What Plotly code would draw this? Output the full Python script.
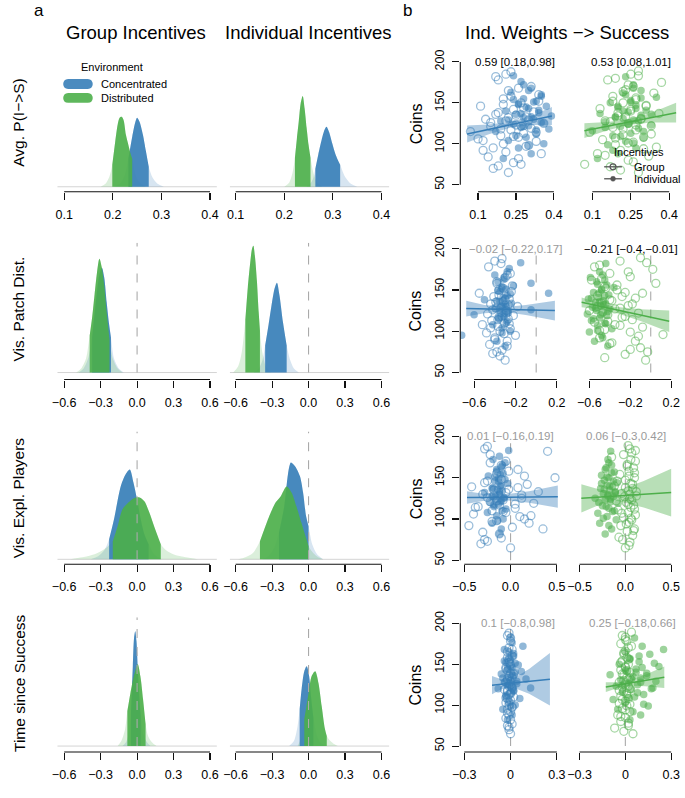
import plotly.graph_objects as go

# ======================= DATA =======================
# ---- Panel a: posterior densities (relative height) + 95% interval (lo, hi) ----
# Row 1: Avg. P(I->S)
r1_grp_conc_x = [0.200, 0.215, 0.225, 0.232, 0.240, 0.246, 0.250, 0.255, 0.262, 0.268, 0.274, 0.282, 0.292, 0.305]
r1_grp_conc_h = [0, 3, 12, 28, 50, 64, 69, 65, 52, 36, 20, 9, 3, 0]
r1_grp_conc_ci = [0.232, 0.274]
r1_grp_dist_x = [0.175, 0.185, 0.193, 0.199, 0.205, 0.210, 0.214, 0.218, 0.222, 0.227, 0.232, 0.236, 0.240, 0.248, 0.258, 0.268]
r1_grp_dist_h = [0, 3, 10, 22, 45, 62, 69, 70, 67, 52, 42, 34, 28, 10, 3, 0]
r1_grp_dist_ci = [0.199, 0.240]
r1_ind_conc_x = [0.245, 0.255, 0.260, 0.264, 0.270, 0.277, 0.283, 0.287, 0.292, 0.299, 0.305, 0.310, 0.315, 0.325, 0.337, 0.350]
r1_ind_conc_h = [0, 4, 9, 18, 32, 47, 57, 60, 55, 43, 33, 27, 22, 10, 3, 0]
r1_ind_conc_ci = [0.264, 0.315]
r1_ind_dist_x = [0.200, 0.210, 0.217, 0.222, 0.226, 0.230, 0.234, 0.238, 0.242, 0.246, 0.250, 0.254, 0.260, 0.268, 0.278]
r1_ind_dist_h = [0, 4, 14, 29, 48, 66, 84, 91, 78, 59, 42, 29, 14, 4, 0]
r1_ind_dist_ci = [0.222, 0.254]
# Row 2: Vis. Patch Dist.
r2_grp_conc_x = [-0.48, -0.44, -0.40, -0.37, -0.34, -0.31, -0.29, -0.27, -0.25, -0.23, -0.215, -0.19, -0.15, -0.11]
r2_grp_conc_h = [0, 4, 15, 35, 70, 98, 105, 95, 70, 48, 35, 14, 4, 0]
r2_grp_conc_ci = [-0.37, -0.215]
r2_grp_dist_x = [-0.50, -0.46, -0.42, -0.39, -0.37, -0.35, -0.33, -0.31, -0.29, -0.27, -0.25, -0.227, -0.20, -0.16, -0.12]
r2_grp_dist_h = [0, 4, 14, 37, 55, 78, 100, 114, 105, 87, 60, 33, 14, 4, 0]
r2_grp_dist_ci = [-0.39, -0.227]
r2_ind_conc_x = [-0.45, -0.41, -0.38, -0.357, -0.33, -0.31, -0.28, -0.26, -0.24, -0.21, -0.18, -0.15, -0.12, -0.08]
r2_ind_conc_h = [0, 4, 12, 27, 47, 63, 84, 90, 78, 50, 27, 12, 4, 0]
r2_ind_conc_ci = [-0.357, -0.18]
r2_ind_dist_x = [-0.62, -0.58, -0.55, -0.52, -0.50, -0.48, -0.465, -0.454, -0.44, -0.425, -0.41, -0.40, -0.38, -0.35, -0.31]
r2_ind_dist_h = [0, 6, 20, 53, 85, 110, 124, 127, 115, 92, 60, 42, 20, 6, 0]
r2_ind_dist_ci = [-0.52, -0.40]
# Row 3: Vis. Expl. Players
r3_grp_conc_x = [-0.38, -0.32, -0.27, -0.23, -0.19, -0.135, -0.095, -0.06, -0.03, 0.0, 0.03, 0.06, 0.095, 0.14, 0.20]
r3_grp_conc_h = [0, 3, 9, 20, 40, 73, 85, 90, 77, 60, 40, 25, 15, 5, 0]
r3_grp_conc_ci = [-0.23, 0.095]
r3_grp_dist_x = [-0.55, -0.45, -0.35, -0.27, -0.20, -0.16, -0.12, -0.07, -0.03, 0.02, 0.06, 0.10, 0.14, 0.195, 0.25, 0.32, 0.40, 0.50]
r3_grp_dist_h = [0, 2, 5, 10, 18, 33, 50, 57, 61, 62, 58, 47, 33, 15, 8, 4, 2, 0]
r3_grp_dist_ci = [-0.20, 0.195]
r3_ind_conc_x = [-0.38, -0.33, -0.28, -0.243, -0.20, -0.178, -0.16, -0.145, -0.11, -0.07, -0.045, -0.02, 0.0, 0.03, 0.07, 0.12]
r3_ind_conc_h = [0, 3, 12, 27, 53, 77, 92, 97, 93, 83, 67, 43, 33, 15, 5, 0]
r3_ind_conc_ci = [-0.243, 0.0]
r3_ind_dist_x = [-0.58, -0.52, -0.46, -0.40, -0.355, -0.31, -0.27, -0.23, -0.18, -0.14, -0.10, -0.06, -0.03, 0.0, 0.04, 0.08, 0.12]
r3_ind_dist_h = [0, 2, 6, 18, 33, 47, 57, 63, 73, 67, 53, 37, 25, 13, 6, 2, 0]
r3_ind_dist_ci = [-0.40, 0.0]
# Row 4: Time since Success
r4_grp_conc_x = [-0.12, -0.09, -0.065, -0.05, -0.035, -0.025, -0.015, -0.005, 0.005, 0.015, 0.03, 0.05, 0.08, 0.11]
r4_grp_conc_h = [0, 4, 15, 35, 80, 108, 115, 105, 80, 55, 30, 12, 4, 0]
r4_grp_conc_ci = [-0.05, 0.03]
r4_grp_dist_x = [-0.16, -0.13, -0.10, -0.08, -0.055, -0.027, 0.005, 0.027, 0.049, 0.07, 0.09, 0.12, 0.16]
r4_grp_dist_h = [0, 5, 16, 35, 53, 70, 82, 70, 47, 22, 10, 4, 0]
r4_grp_dist_ci = [-0.08, 0.07]
r4_ind_conc_x = [-0.16, -0.12, -0.09, -0.073, -0.057, -0.035, -0.015, 0.005, 0.02, 0.04, 0.07, 0.10, 0.14]
r4_ind_conc_h = [0, 5, 20, 37, 57, 75, 80, 70, 50, 28, 10, 3, 0]
r4_ind_conc_ci = [-0.073, 0.04]
r4_ind_dist_x = [-0.09, -0.06, -0.035, 0.0, 0.025, 0.055, 0.082, 0.108, 0.135, 0.15, 0.18, 0.21, 0.24]
r4_ind_dist_h = [0, 8, 27, 53, 70, 75, 63, 40, 17, 10, 5, 2, 0]
r4_ind_dist_ci = [-0.035, 0.15]

# ---- Panel b: coins per player (Concentrated = blue, Distributed = green) ----
conc_group_coins = [65, 73, 75, 77, 84, 88, 92, 95, 98, 100, 103, 106, 108, 110, 113, 115, 117, 119, 121, 123,
                    125, 128, 130, 133, 136, 139, 142, 146, 150, 155, 160, 165, 170, 178, 185, 188,
                    70, 82, 90, 97, 104, 109, 114, 118, 122, 126, 129, 132, 135, 138, 144, 148, 152, 158, 168, 182]
conc_indiv_coins = [82, 88, 95, 100, 104, 108, 112, 115, 118, 120, 122, 124, 126, 128, 130, 132, 134, 136, 138, 140,
                    143, 146, 149, 152, 155, 158, 163, 168, 176, 183,
                    98, 110, 117, 121, 125, 129, 133, 137, 141, 145, 148, 151, 154, 160, 165, 172]
dist_group_coins = [65, 72, 75, 80, 85, 88, 92, 96, 99, 102, 105, 108, 111, 114, 117, 120, 122, 125, 128, 131,
                    134, 137, 140, 143, 147, 150, 154, 158, 162, 166, 170, 175, 180, 185, 189, 178,
                    68, 78, 86, 94, 101, 107, 112, 118, 123, 127, 130, 133, 138, 142, 146, 152, 156, 164, 172, 183]
dist_indiv_coins = [82, 88, 95, 99, 103, 107, 110, 113, 116, 119, 121, 123, 125, 127, 129, 131, 133, 135, 137, 139,
                    141, 144, 147, 150, 153, 157, 162, 165, 172, 182,
                    92, 101, 109, 115, 120, 124, 128, 132, 136, 140, 143, 146, 151, 156, 160, 168]

# individual weights per player, per row
r1_conc_group_w = [0.22, 0.18, 0.27, 0.24, 0.14, 0.35, 0.12, 0.16, 0.30, 0.20, 0.33, 0.10, 0.26, 0.19, 0.28, 0.07, 0.23, 0.31,
                   0.15, 0.25, 0.36, 0.21, 0.13, 0.29, 0.17, 0.32, 0.24, 0.11, 0.27, 0.20, 0.34, 0.22, 0.31, 0.18, 0.21, 0.23,
                   0.16, 0.26, 0.21, 0.29, 0.12, 0.24, 0.33, 0.19, 0.27, 0.15, 0.30, 0.22, 0.25, 0.18, 0.28, 0.20, 0.34, 0.23, 0.26, 0.17]
r1_conc_indiv_w = [0.20, 0.31, 0.26, 0.36, 0.22, 0.29, 0.33, 0.17, 0.38, 0.27, 0.30, 0.24, 0.35, 0.19, 0.32, 0.28, 0.39, 0.25,
                   0.34, 0.21, 0.30, 0.37, 0.26, 0.33, 0.28, 0.35, 0.23, 0.31, 0.27, 0.24,
                   0.30, 0.25, 0.33, 0.28, 0.36, 0.22, 0.31, 0.27, 0.34, 0.29, 0.26, 0.32, 0.24, 0.35, 0.30, 0.28]
r1_dist_group_w = [0.28, 0.17, 0.07, 0.24, 0.32, 0.12, 0.21, 0.35, 0.19, 0.26, 0.14, 0.30, 0.22, 0.09, 0.27, 0.18, 0.33, 0.24,
                   0.15, 0.29, 0.20, 0.36, 0.25, 0.13, 0.31, 0.22, 0.27, 0.18, 0.34, 0.23, 0.26, 0.37, 0.19, 0.25, 0.28, 0.16,
                   0.21, 0.26, 0.15, 0.30, 0.24, 0.19, 0.33, 0.22, 0.27, 0.17, 0.29, 0.23, 0.20, 0.25, 0.31, 0.18, 0.27, 0.22, 0.24, 0.28]
r1_dist_indiv_w = [0.12, 0.20, 0.27, 0.16, 0.23, 0.30, 0.18, 0.25, 0.10, 0.28, 0.21, 0.33, 0.24, 0.15, 0.26, 0.22, 0.19, 0.29,
                   0.13, 0.24, 0.31, 0.20, 0.27, 0.17, 0.25, 0.35, 0.22, 0.29, 0.26, 0.23,
                   0.18, 0.26, 0.21, 0.30, 0.15, 0.24, 0.28, 0.19, 0.33, 0.22, 0.27, 0.20, 0.25, 0.29, 0.23, 0.26]
r2_conc_group_w = [-0.30, -0.42, -0.38, -0.33, -0.45, -0.28, -0.40, -0.20, -0.48, -0.35, -0.25, -0.37, -0.52, -0.31, -0.43,
                   -0.27, -0.36, -0.22, -0.47, -0.34, -0.29, -0.39, -0.18, -0.44, -0.32, -0.26, -0.41, -0.55, -0.36, -0.23,
                   -0.38, -0.30, -0.25, -0.46, -0.40, -0.33,
                   -0.35, -0.28, -0.40, -0.31, -0.44, -0.26, -0.37, -0.33, -0.29, -0.42, -0.34, -0.27, -0.39, -0.30, -0.36,
                   -0.24, -0.32, -0.38, -0.28, -0.34]
r2_conc_indiv_w = [-0.30, -0.38, -0.72, -0.25, -0.33, -0.42, -0.28, -0.36, -0.31, -0.60, -0.27, -0.34, -0.05, -0.39, -0.29,
                   -0.32, -0.24, -0.35, -0.50, -0.30, -0.28, 0.12, -0.37, -0.33, -0.22, -0.05, -0.31, -0.40, -0.26, -0.15,
                   -0.33, -0.29, -0.36, -0.31, -0.27, -0.34, -0.30, -0.38, -0.32, -0.25, -0.35, -0.29, -0.33, -0.37, -0.31, -0.28]
r2_dist_group_w = [-0.05, -0.25, -0.03, -0.10, -0.40, -0.15, -0.50, 0.12, -0.20, -0.45, -0.08, -0.35, -0.55, -0.18, -0.28,
                   -0.42, -0.12, -0.60, -0.30, -0.22, -0.48, -0.38, -0.15, -0.52, -0.25, -0.33, -0.45, 0.05, -0.58, -0.20,
                   -0.40, 0.02, -0.50, -0.30, -0.10, -0.55,
                   -0.45, -0.20, -0.38, -0.12, -0.50, -0.30, -0.42, -0.25, -0.47, -0.35, -0.52, -0.18, -0.40, -0.28, -0.08,
                   -0.44, -0.33, -0.48, -0.22, -0.04]
r2_dist_indiv_w = [-0.42, -0.55, -0.48, -0.60, -0.38, -0.52, -0.45, -0.58, -0.50, -0.43, -0.62, -0.47, -0.53, -0.40, -0.57,
                   -0.49, -0.44, -0.54, -0.46, -0.61, -0.51, -0.41, -0.56, -0.48, -0.36, -0.52, -0.45, -0.59, -0.50, -0.44,
                   -0.47, -0.52, -0.44, -0.56, -0.49, -0.42, -0.54, -0.46, -0.50, -0.58, -0.45, -0.51, -0.48, -0.43, -0.53, -0.47]
r3_conc_group_w = [0.00, -0.25, -0.28, -0.10, -0.30, 0.35, -0.45, 0.20, -0.15, 0.15, 0.10, -0.40, -0.05, -0.20, 0.05,
                   -0.35, -0.12, 0.25, -0.22, -0.08, 0.12, -0.18, -0.30, 0.30, -0.02, -0.42, 0.18, -0.25, 0.48, -0.15,
                   0.08, -0.10, -0.05, -0.22, -0.28, -0.25,
                   -0.32, -0.12, 0.02, -0.20, 0.22, -0.08, -0.38, 0.05, -0.15, -0.25, 0.12, -0.05, -0.18, 0.08, -0.28,
                   -0.10, 0.15, -0.02, -0.22, 0.40]
r3_conc_indiv_w = [-0.12, -0.10, -0.20, -0.08, -0.15, -0.25, -0.05, -0.18, -0.13, -0.22, -0.10, -0.16, -0.07, -0.20, -0.12,
                   -0.28, -0.09, -0.14, -0.19, -0.11, -0.03, -0.17, -0.13, -0.24, -0.08, -0.15, -0.10, -0.06, -0.12, -0.02,
                   -0.14, -0.09, -0.18, -0.11, -0.07, -0.16, -0.12, -0.20, -0.10, -0.13, -0.06, -0.17, -0.11, -0.15, -0.09, -0.19]
r3_dist_group_w = [0.00, 0.05, -0.03, 0.08, 0.02, 0.10, -0.05, 0.04, 0.07, -0.02, 0.11, 0.03, -0.08, 0.06, 0.09, 0.01,
                   -0.10, 0.05, 0.12, -0.04, 0.03, 0.08, -0.12, 0.06, 0.00, 0.10, -0.06, 0.04, 0.09, 0.02, 0.11, -0.15,
                   0.07, 0.05, 0.03, -0.02,
                   0.04, -0.07, 0.09, 0.01, 0.06, -0.04, 0.10, 0.03, 0.07, -0.01, 0.05, 0.12, 0.00, 0.08, -0.09, 0.04,
                   0.10, 0.02, 0.06, 0.11]
r3_dist_indiv_w = [-0.22, -0.15, -0.28, -0.10, -0.20, -0.30, -0.12, -0.18, -0.25, -0.08, -0.16, -0.22, -0.33, -0.13, -0.19,
                   -0.24, -0.11, -0.17, -0.27, -0.14, -0.20, -0.09, -0.23, -0.18, -0.26, -0.12, -0.21, -0.15, -0.19, -0.16,
                   -0.18, -0.24, -0.14, -0.21, -0.29, -0.16, -0.19, -0.11, -0.23, -0.17, -0.26, -0.13, -0.20, -0.15, -0.22, -0.18]
r4_conc_group_w = [0.00, -0.01, -0.02, 0.01, -0.03, -0.01, 0.00, -0.02, 0.01, -0.01, -0.03, 0.00, -0.02, 0.02, -0.01,
                   0.00, -0.02, -0.04, 0.01, -0.01, 0.00, -0.03, -0.02, 0.01, -0.01, 0.00, -0.02, -0.03, 0.00, -0.01,
                   0.01, -0.02, -0.01, 0.00, -0.02, -0.01,
                   -0.01, 0.00, -0.02, 0.01, -0.01, -0.03, 0.00, -0.02, 0.01, -0.01, 0.00, -0.02, -0.01, 0.02, -0.03,
                   0.00, -0.01, -0.02, 0.01, 0.00]
r4_conc_indiv_w = [-0.02, 0.01, -0.05, 0.03, -0.01, 0.06, -0.03, 0.00, 0.02, -0.08, 0.01, -0.02, 0.04, -0.04, 0.00,
                   0.10, -0.01, 0.02, -0.06, 0.03, -0.02, 0.01, 0.05, -0.03, 0.00, -0.01, 0.02, -0.04, 0.01, 0.00,
                   0.00, -0.03, 0.02, 0.13, -0.01, 0.04, -0.05, 0.01, 0.07, -0.02, 0.00, 0.03, -0.04, 0.02, -0.01, 0.08]
r4_dist_group_w = [0.05, -0.07, 0.02, -0.03, 0.00, -0.05, 0.03, -0.02, 0.01, -0.04, 0.00, 0.02, -0.03, 0.01, -0.01,
                   0.03, -0.02, 0.00, -0.04, 0.02, 0.01, -0.01, 0.03, -0.03, 0.00, 0.02, -0.02, 0.01, -0.01, 0.00,
                   0.02, -0.03, 0.00, -0.02, 0.04, 0.01,
                   -0.01, 0.02, -0.03, 0.00, 0.03, -0.02, 0.01, -0.04, 0.02, 0.00, -0.01, 0.03, -0.02, 0.01, 0.00,
                   -0.03, 0.02, -0.01, 0.04, 0.00]
r4_dist_indiv_w = [0.03, 0.10, -0.05, 0.15, 0.00, -0.08, 0.06, 0.12, -0.02, 0.04, 0.18, -0.06, 0.08, 0.02, 0.20, -0.03,
                   0.10, 0.05, -0.10, 0.14, 0.01, 0.07, 0.22, -0.04, 0.09, 0.03, 0.16, 0.00, 0.11, 0.06,
                   0.05, 0.12, 0.02, 0.08, 0.17, -0.02, 0.10, 0.04, 0.14, 0.07, 0.00, 0.11, 0.19, 0.03, 0.09, 0.25]

# regression fit lines and confidence bands
r1_conc_fit_x, r1_conc_fit_y = [0.057, 0.392], [112, 134]
r1_conc_band_x = [0.057, 0.14, 0.23, 0.31, 0.392]
r1_conc_band_lo = [101.5, 111.5, 119.9, 123.1, 123]
r1_conc_band_hi = [122.5, 123.5, 126.9, 134.1, 145]
r1_dist_fit_x, r1_dist_fit_y = [0.069, 0.427], [116, 138]
r1_dist_band_x = [0.069, 0.16, 0.24, 0.33, 0.427]
r1_dist_band_lo = [107, 116.6, 123, 126, 126]
r1_dist_band_hi = [125, 126.6, 130, 138, 150]
r2_conc_fit_x, r2_conc_fit_y = [-0.676, 0.181], [127.4, 125]
r2_conc_band_x = [-0.676, -0.5, -0.3, -0.1, 0.181]
r2_conc_band_lo = [117.9, 121.9, 123.3, 119.8, 113.0]
r2_conc_band_hi = [136.9, 131.9, 129.3, 131.8, 137.0]
r2_dist_fit_x, r2_dist_fit_y = [-0.676, 0.181], [135, 112]
r2_dist_band_x = [-0.676, -0.5, -0.35, -0.1, 0.181]
r2_dist_band_lo = [129, 126.3, 122.7, 112.5, 99]
r2_dist_band_hi = [141, 134.3, 129.7, 126.5, 125]
r3_conc_fit_x, r3_conc_fit_y = [-0.47, 0.51], [126, 127]
r3_conc_band_x = [-0.47, -0.3, -0.1, 0.2, 0.51]
r3_conc_band_lo = [118.5, 121.7, 123.4, 119.7, 113.5]
r3_conc_band_hi = [133.5, 130.7, 129.4, 133.7, 140.5]
r3_dist_fit_x, r3_dist_fit_y = [-0.48, 0.5], [125, 132]
r3_dist_band_x = [-0.48, -0.3, -0.12, 0.2, 0.5]
r3_dist_band_lo = [108, 116.3, 122.6, 114, 103]
r3_dist_band_hi = [142, 136.3, 132.6, 146, 161]
r4_conc_fit_x, r4_conc_fit_y = [-0.12, 0.255], [124.4, 131.6]
r4_conc_band_x = [-0.12, -0.06, 0.0, 0.12, 0.255]
r4_conc_band_lo = [113.4, 119.5, 122.7, 114.0, 99.6]
r4_conc_band_hi = [135.4, 131.5, 130.7, 144.0, 163.6]
r4_dist_fit_x, r4_dist_fit_y = [-0.128, 0.255], [122, 134]
r4_dist_band_x = [-0.128, -0.05, 0.02, 0.13, 0.255]
r4_dist_band_lo = [116, 120.9, 123.6, 123.1, 121]
r4_dist_band_hi = [128, 127.9, 129.6, 137.1, 147]

# effect labels
r1_effects = ["0.59 [0.18,0.98]", "0.53 [0.08,1.01]"]
r2_effects = ["−0.02 [−0.22,0.17]", "−0.21 [−0.4,−0.01]"]
r3_effects = ["0.01 [−0.16,0.19]", "0.06 [−0.3,0.42]"]
r4_effects = ["0.1 [−0.8,0.98]", "0.25 [−0.18,0.66]"]
effect_credible = [[True, True], [False, True], [False, False], [False, False]]

# tick labels
a_r1_ticks = [0.1, 0.2, 0.3, 0.4]
a_r1_ticktext = ["0.1", "0.2", "0.3", "0.4"]
a_ticks = [-0.6, -0.3, 0.0, 0.3, 0.6]
a_ticktext = ["−0.6", "−0.3", "0.0", "0.3", "0.6"]
b_r1_ticks, b_r1_ticktext = [0.1, 0.25, 0.4], ["0.1", "0.25", "0.4"]
b_r2_ticks, b_r2_ticktext = [-0.6, -0.2, 0.2], ["−0.6", "−0.2", "0.2"]
b_r3_ticks, b_r3_ticktext = [-0.5, 0.0, 0.5], ["−0.5", "0.0", "0.5"]
b_r4_ticks, b_r4_ticktext = [-0.3, 0.0, 0.3], ["−0.3", "0", "0.3"]
coin_ticks = [50, 100, 150, 200]
coin_ticktext = ["50", "100", "150", "200"]

row_labels = ["Avg. P(I−>S)", "Vis. Patch Dist.", "Vis. Expl. Players", "Time since Success"]

# ======================= LAYOUT / DRAWING =======================
W, H = 685, 798
BLUE = (55, 126, 184)
GREEN = (77, 175, 74)
FONT = "Liberation Sans, Arial, Helvetica, sans-serif"


def rgba(c, a):
    return f"rgba({c[0]},{c[1]},{c[2]},{a})"


def lin_range(p_a, p_b, v1, p1, v2, p2):
    k = (v2 - v1) / (p2 - p1)
    return [v1 + (p_a - p1) * k, v1 + (p_b - p1) * k]


fig = go.Figure()
layout = dict(width=W, height=H, autosize=False, margin=dict(l=0, r=0, t=0, b=0),
              paper_bgcolor="white", plot_bgcolor="rgba(0,0,0,0)", showlegend=False,
              font=dict(family=FONT, color="black"))
shapes = []
annotations = []


def axname(n, letter):
    return letter if n == 1 else f"{letter}{n}"


def set_axes(n, xdom, ydom, xr, yr, xt, xtt, yt=None, ytt=None):
    xa = dict(domain=[xdom[0] / W, xdom[1] / W], range=xr, anchor=axname(n, "y"),
              showgrid=False, zeroline=False, showline=False, fixedrange=True,
              tickmode="array", tickvals=xt, ticktext=xtt, ticks="outside", ticklen=7,
              tickwidth=1.1, tickcolor="#111", tickfont=dict(size=12.5, family=FONT, color="black"),
              ticklabelstandoff=4)
    ya = dict(domain=[1 - ydom[1] / H, 1 - ydom[0] / H], range=yr, anchor=axname(n, "x"),
              showgrid=False, zeroline=False, showline=False, fixedrange=True)
    if yt is None:
        ya.update(showticklabels=False, ticks="")
    else:
        ya.update(tickmode="array", tickvals=yt, ticktext=ytt, ticks="outside", ticklen=7,
                  tickwidth=1.1, tickcolor="#111", tickangle=-90,
                  tickfont=dict(size=12.5, family=FONT, color="black"), ticklabelstandoff=3)
    layout["xaxis" if n == 1 else f"xaxis{n}"] = xa
    layout["yaxis" if n == 1 else f"yaxis{n}"] = ya
    # R-style axis line spanning first to last tick
    shapes.append(dict(type="line", xref=axname(n, "x"), yref=f"{axname(n, 'y')} domain",
                       x0=xt[0], x1=xt[-1], y0=0, y1=0, line=dict(color="#111", width=1.1)))
    if yt is not None:
        shapes.append(dict(type="line", xref=f"{axname(n, 'x')} domain", yref=axname(n, "y"),
                           x0=0, x1=0, y0=yt[0], y1=yt[-1], line=dict(color="#111", width=1.1)))


def ann(text, x, y, size, color="black", xanchor="center", angle=0):
    annotations.append(dict(text=text, x=x / W, y=1 - y / H, xref="paper", yref="paper",
                            showarrow=False, xanchor=xanchor, yanchor="middle", textangle=angle,
                            font=dict(size=size, color=color, family=FONT)))


# ---------- panel a ----------
dens_rows = [
    [((r1_grp_conc_x, r1_grp_conc_h, r1_grp_conc_ci), (r1_grp_dist_x, r1_grp_dist_h, r1_grp_dist_ci)),
     ((r1_ind_conc_x, r1_ind_conc_h, r1_ind_conc_ci), (r1_ind_dist_x, r1_ind_dist_h, r1_ind_dist_ci))],
    [((r2_grp_conc_x, r2_grp_conc_h, r2_grp_conc_ci), (r2_grp_dist_x, r2_grp_dist_h, r2_grp_dist_ci)),
     ((r2_ind_conc_x, r2_ind_conc_h, r2_ind_conc_ci), (r2_ind_dist_x, r2_ind_dist_h, r2_ind_dist_ci))],
    [((r3_grp_conc_x, r3_grp_conc_h, r3_grp_conc_ci), (r3_grp_dist_x, r3_grp_dist_h, r3_grp_dist_ci)),
     ((r3_ind_conc_x, r3_ind_conc_h, r3_ind_conc_ci), (r3_ind_dist_x, r3_ind_dist_h, r3_ind_dist_ci))],
    [((r4_grp_conc_x, r4_grp_conc_h, r4_grp_conc_ci), (r4_grp_dist_x, r4_grp_dist_h, r4_grp_dist_ci)),
     ((r4_ind_conc_x, r4_ind_conc_h, r4_ind_conc_ci), (r4_ind_dist_x, r4_ind_dist_h, r4_ind_dist_ci))],
]
a_xdom = [(50, 212), (225, 387)]
a_tick_px = [(57, 205), (231, 379)]
a_ydom = [(56, 192), (243, 380), (432, 565), (618, 753)]
a_base = [187, 373, 560, 747]

for r in range(4):
    for c in range(2):
        n = r * 2 + c + 1
        xt, xtt = (a_r1_ticks, a_r1_ticktext) if r == 0 else (a_ticks, a_ticktext)
        xr = lin_range(a_xdom[c][0], a_xdom[c][1], xt[0], a_tick_px[c][0], xt[-1], a_tick_px[c][1])
        top, bot = a_ydom[r]
        yr = [a_base[r] - bot, a_base[r] - top]
        set_axes(n, a_xdom[c], a_ydom[r], xr, yr, xt, xtt)
        xa, ya = axname(n, "x"), axname(n, "y")
        shapes.append(dict(type="line", xref=xa, yref=ya, x0=xr[0], x1=xr[1], y0=0, y1=0,
                           line=dict(color="#d4d4d4", width=1), layer="below"))
        conc, dist = dens_rows[r][c]
        # light full densities
        for (dx, dh, ci), col in ((conc, BLUE), (dist, GREEN)):
            fig.add_trace(go.Scatter(x=dx, y=dh, xaxis=xa, yaxis=ya, mode="lines",
                                     line=dict(width=0, shape="spline", smoothing=0.8),
                                     fill="tozeroy", fillcolor=rgba(col, 0.2), hoverinfo="skip"))
        # dark credible regions
        for (dx, dh, ci), col in ((conc, BLUE), (dist, GREEN)):
            sx = [x for x in dx if ci[0] <= x <= ci[1]]
            sh = [h for x, h in zip(dx, dh) if ci[0] <= x <= ci[1]]
            fig.add_trace(go.Scatter(x=sx, y=sh, xaxis=xa, yaxis=ya, mode="lines",
                                     line=dict(width=0, shape="spline", smoothing=0.8),
                                     fill="tozeroy", fillcolor=rgba(col, 0.9), hoverinfo="skip"))
        if r > 0:
            shapes.append(dict(type="line", xref=xa, yref=ya, x0=0, x1=0, y0=0, y1=yr[1],
                               line=dict(color="#aaaaaa", width=1.1, dash="dash"), layer="above"))

# ---------- panel b ----------
b_rows = [
    dict(w=[(r1_conc_group_w, r1_conc_indiv_w), (r1_dist_group_w, r1_dist_indiv_w)],
         fit=[(r1_conc_fit_x, r1_conc_fit_y, r1_conc_band_x, r1_conc_band_lo, r1_conc_band_hi),
              (r1_dist_fit_x, r1_dist_fit_y, r1_dist_band_x, r1_dist_band_lo, r1_dist_band_hi)],
         ticks=(b_r1_ticks, b_r1_ticktext), eff=r1_effects),
    dict(w=[(r2_conc_group_w, r2_conc_indiv_w), (r2_dist_group_w, r2_dist_indiv_w)],
         fit=[(r2_conc_fit_x, r2_conc_fit_y, r2_conc_band_x, r2_conc_band_lo, r2_conc_band_hi),
              (r2_dist_fit_x, r2_dist_fit_y, r2_dist_band_x, r2_dist_band_lo, r2_dist_band_hi)],
         ticks=(b_r2_ticks, b_r2_ticktext), eff=r2_effects),
    dict(w=[(r3_conc_group_w, r3_conc_indiv_w), (r3_dist_group_w, r3_dist_indiv_w)],
         fit=[(r3_conc_fit_x, r3_conc_fit_y, r3_conc_band_x, r3_conc_band_lo, r3_conc_band_hi),
              (r3_dist_fit_x, r3_dist_fit_y, r3_dist_band_x, r3_dist_band_lo, r3_dist_band_hi)],
         ticks=(b_r3_ticks, b_r3_ticktext), eff=r3_effects),
    dict(w=[(r4_conc_group_w, r4_conc_indiv_w), (r4_dist_group_w, r4_dist_indiv_w)],
         fit=[(r4_conc_fit_x, r4_conc_fit_y, r4_conc_band_x, r4_conc_band_lo, r4_conc_band_hi),
              (r4_dist_fit_x, r4_dist_fit_y, r4_dist_band_x, r4_dist_band_lo, r4_dist_band_hi)],
         ticks=(b_r4_ticks, b_r4_ticktext), eff=r4_effects),
]
coins = [(conc_group_coins, conc_indiv_coins), (dist_group_coins, dist_indiv_coins)]
b_xdom = [(459, 566), (576, 683)]
b_tick_px = [[(477, 554), (593, 671)], [(473, 557), (590, 673)],
             [(463, 557), (580, 673)], [(463, 557), (580, 673)]]
b_ydom = [(40, 192), (228, 380), (415, 565), (603, 753)]
b_coin_px = [(62, 185), (249, 373), (437, 561), (624, 747)]
eff_px = [[515, 632], [515, 632], [510, 627], [518, 634]]

for r in range(4):
    row = b_rows[r]
    for c in range(2):
        n = 9 + r * 2 + c
        col = BLUE if c == 0 else GREEN
        xt, xtt = row["ticks"]
        xr = lin_range(b_xdom[c][0], b_xdom[c][1], xt[0], b_tick_px[r][c][0], xt[-1], b_tick_px[r][c][1])
        top, bot = b_ydom[r]
        yr = lin_range(bot, top, 200, b_coin_px[r][0], 50, b_coin_px[r][1])
        if c == 0:
            set_axes(n, b_xdom[c], b_ydom[r], xr, yr, xt, xtt, coin_ticks, coin_ticktext)
        else:
            set_axes(n, b_xdom[c], b_ydom[r], xr, yr, xt, xtt)
        xa, ya = axname(n, "x"), axname(n, "y")
        if r > 0:
            shapes.append(dict(type="line", xref=xa, yref=ya, x0=0, x1=0, y0=50, y1=198,
                               line=dict(color="#aaaaaa", width=1.1, dash="dash"), layer="below"))
        fx, fy, bx, blo, bhi = row["fit"][c]
        fig.add_trace(go.Scatter(x=bx + bx[::-1], y=bhi + blo[::-1], xaxis=xa, yaxis=ya, mode="lines",
                                 line=dict(width=0), fill="toself", fillcolor=rgba(col, 0.4),
                                 hoverinfo="skip"))
        wg, wi = row["w"][c]
        cg, ci_ = coins[c]
        fig.add_trace(go.Scatter(x=wg, y=cg, xaxis=xa, yaxis=ya, mode="markers",
                                 marker=dict(symbol="circle-open", size=8, color=rgba(col, 0.5),
                                             line=dict(width=1.3)), hoverinfo="skip"))
        fig.add_trace(go.Scatter(x=wi, y=ci_, xaxis=xa, yaxis=ya, mode="markers",
                                 marker=dict(symbol="circle", size=7.5, color=rgba(col, 0.55),
                                             line=dict(width=0)), hoverinfo="skip"))
        fig.add_trace(go.Scatter(x=fx, y=fy, xaxis=xa, yaxis=ya, mode="lines",
                                 line=dict(color=rgba(col, 1.0), width=1.5), hoverinfo="skip"))
        ann(row["eff"][c], eff_px[r][c], b_coin_px[r][0], 11.5,
            color="black" if effect_credible[r][c] else "#9a9a9a")
    ann("Coins", 414, (b_coin_px[r][0] + b_coin_px[r][1]) / 2, 16, angle=-90)

# ---------- text ----------
ann("a", 31, 11, 17)
ann("b", 405, 11, 17)
ann("Group Incentives", 130, 33, 18.5)
ann("Individual Incentives", 305, 33, 18.5)
ann("Ind. Weights −> Success", 567, 33, 18.5)
row_label_y = [123, 309, 498, 684]
for lab, yy in zip(row_labels, row_label_y):
    ann(lab, 11, yy, 15.5, angle=-90)

# legend panel a
ann("Environment", 106, 67, 11)


def pill(x0, x1, yc, r, color):
    k = 1.33 * r
    P = lambda x, y: f"{x / W:.5f},{1 - y / H:.5f}"
    path = (f"M {P(x0, yc - r)} L {P(x1, yc - r)} C {P(x1 + k, yc - r)} {P(x1 + k, yc + r)} {P(x1, yc + r)} "
            f"L {P(x0, yc + r)} C {P(x0 - k, yc + r)} {P(x0 - k, yc - r)} {P(x0, yc - r)} Z")
    shapes.append(dict(type="path", xref="paper", yref="paper", path=path,
                       fillcolor=color, line=dict(width=0)))


pill(61, 81, 84, 5, rgba(BLUE, 0.9))
pill(61, 81, 98, 5, rgba(GREEN, 0.9))
ann("Concentrated", 92, 84, 11, xanchor="left")
ann("Distributed", 92, 98, 11, xanchor="left")

# legend panel b
ann("Incentives", 640, 152, 11)
ann("Group", 633, 167, 11, xanchor="left")
ann("Individual", 633, 179, 11, xanchor="left")
for yy in (167, 179):
    shapes.append(dict(type="line", xref="paper", yref="paper", x0=605 / W, x1=623 / W,
                       y0=1 - yy / H, y1=1 - yy / H, line=dict(color="#555555", width=1.3)))
shapes.append(dict(type="circle", xref="paper", yref="paper", x0=611 / W, x1=617 / W,
                   y0=1 - 170 / H, y1=1 - 164 / H, line=dict(color="#555555", width=1.2),
                   fillcolor="rgba(0,0,0,0)"))
shapes.append(dict(type="circle", xref="paper", yref="paper", x0=611.5 / W, x1=616.5 / W,
                   y0=1 - 181.5 / H, y1=1 - 176.5 / H, line=dict(color="#555555", width=0.5),
                   fillcolor="#555555"))

layout["shapes"] = shapes
layout["annotations"] = annotations
fig.update_layout(**layout)
fig.write_html("out.html", config={"displayModeBar": False, "staticPlot": True},
               post_script="document.body.style.margin='0';")
